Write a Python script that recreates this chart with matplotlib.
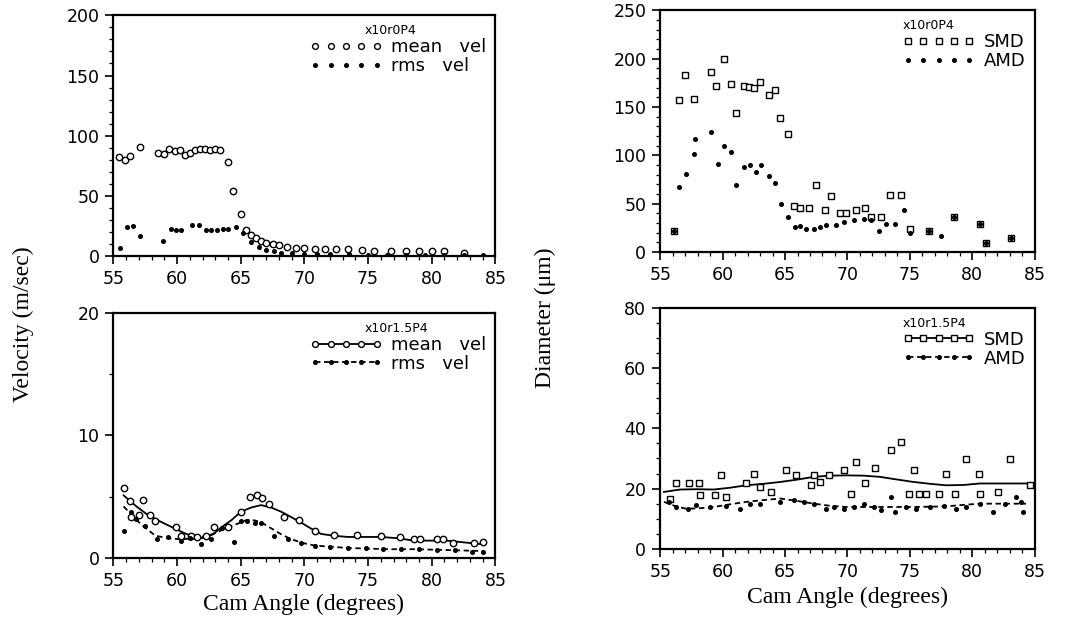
import matplotlib.pyplot as plt
from matplotlib.lines import Line2D
from matplotlib.ticker import MultipleLocator

# ---- top left: velocity, x10r0P4 ----
tl_mean_x = [55.4, 55.9, 56.3, 57.1, 58.5, 59.0, 59.4, 59.8, 60.2, 60.6, 61.0, 61.4, 61.8, 62.2,
             62.6, 63.0, 63.4, 64.0, 64.4, 65.0, 65.4, 65.8, 66.2, 66.6, 67.0, 67.5, 68.0, 68.6,
             69.3, 70.0, 70.8, 71.6, 72.5, 73.4, 74.5, 75.5, 76.8, 78.0, 79.0, 80.0, 81.0, 82.5]
tl_mean_y = [82, 80, 83, 91, 86, 85, 89, 87, 88, 84, 86, 88, 89, 89,
             88, 89, 88, 78, 54, 35, 22, 18, 15, 13, 11, 10, 9, 8,
             7, 7, 6, 6, 6, 6, 5, 4, 4, 4, 4, 4, 4, 3]
tl_rms_x = [55.5, 56.1, 56.5, 57.1, 58.9, 59.5, 59.9, 60.3, 61.2, 61.7, 62.3, 62.7, 63.1, 63.6,
            64.0, 64.6, 65.2, 65.8, 66.4, 67.0, 67.6, 68.2, 69.0, 70.0, 71.0, 72.0, 73.5, 75.0,
            76.5, 78.0, 79.5, 81.0, 82.5, 84.0]
tl_rms_y = [7, 24, 25, 17, 13, 23, 22, 22, 26, 26, 22, 22, 22, 23,
            23, 24, 19, 12, 8, 5, 4, 3, 3, 2, 2, 2, 2, 1.5,
            1.5, 1.5, 1.5, 1, 1, 1]

# ---- bottom left: velocity, x10r1.5P4 ----
bl_mean_x = [55.8, 56.3, 57.3, 56.4, 57.0, 57.9, 58.3, 59.9, 60.3, 61.1, 61.6, 62.3, 62.9, 64.0,
             65.0, 65.7, 66.3, 66.7, 67.2, 68.4, 69.6, 70.8, 72.3, 74.1, 76.0, 77.5, 78.6,
             79.1, 80.4, 80.9, 81.7, 83.3, 84.0]
bl_mean_y = [5.7, 4.6, 4.7, 3.3, 3.5, 3.5, 3.0, 2.5, 1.8, 1.8, 1.7, 1.8, 2.5, 2.5,
             3.75, 5.0, 5.1, 4.9, 4.4, 3.3, 3.1, 2.2, 1.9, 1.9, 1.8, 1.7, 1.5,
             1.5, 1.5, 1.5, 1.2, 1.2, 1.3]
bl_mean_fit_x = [55.8, 56.8, 57.7, 58.8, 59.8, 60.6, 61.4, 62.0, 62.8, 63.5, 64.3, 65.0, 65.8,
                 66.6, 67.4, 68.2, 69.0, 69.7, 70.5, 71.3, 72.3, 73.4, 74.7, 76.0, 77.3, 78.6,
                 79.9, 81.2, 82.6, 84.0]
bl_mean_fit_y = [5.1, 4.2, 3.5, 2.9, 2.4, 2.0, 1.7, 1.6, 1.9, 2.5, 3.1, 3.75, 4.1,
                 4.3, 4.1, 3.75, 3.3, 2.9, 2.4, 1.95, 1.8, 1.7, 1.7, 1.7, 1.6, 1.4,
                 1.4, 1.4, 1.25, 1.1]
bl_rms_x = [55.8, 56.4, 56.8, 57.5, 58.4, 59.3, 60.3, 61.0, 61.9, 62.7, 63.5, 64.5, 65.0, 65.5,
            66.1, 66.6, 67.6, 68.7, 69.7, 70.8, 72.0, 73.4, 74.8, 76.2, 77.6, 79.0, 80.4,
            81.8, 83.2, 84.0]
bl_rms_y = [2.2, 3.75, 3.2, 2.6, 1.5, 1.7, 1.4, 1.6, 1.1, 1.5, 2.4, 1.25, 3.0, 3.0,
            2.8, 2.8, 1.8, 1.5, 1.2, 1.0, 0.9, 0.8, 0.8, 0.7, 0.7, 0.7, 0.6,
            0.6, 0.5, 0.5]
bl_rms_fit_x = [55.8, 56.2, 57.2, 58.3, 59.3, 60.3, 61.4, 62.4, 63.2, 64.0, 64.8, 65.5, 66.1,
                66.6, 67.4, 68.2, 69.0, 69.9, 70.8, 72.1, 73.4, 75.0, 76.7, 78.6, 80.5, 82.3, 84.0]
bl_rms_fit_y = [4.2, 3.75, 2.7, 1.8, 1.6, 1.5, 1.6, 1.8, 2.1, 2.5, 2.8, 3.1, 3.05,
                2.9, 2.4, 1.9, 1.5, 1.2, 1.0, 0.9, 0.8, 0.75, 0.7, 0.7, 0.65, 0.6, 0.55]

# ---- top right: diameter, x10r0P4 ----
tr_smd_x = [56.1, 56.5, 57.0, 57.7, 59.1, 59.5, 60.1, 60.7, 61.1, 61.7, 62.1, 62.5, 63.0, 63.7,
            64.2, 64.6, 65.2, 65.7, 66.2, 66.9, 67.5, 68.2, 68.7, 69.4, 69.9, 70.7, 71.4, 71.9,
            72.7, 73.4, 74.3, 75.0, 76.5, 78.5, 80.6, 81.1, 83.1]
tr_smd_y = [22, 157, 183, 158, 186, 172, 200, 174, 144, 172, 171, 169, 176, 162,
            167, 138, 122, 47, 45, 45, 69, 43, 58, 40, 40, 43, 45, 36,
            36, 59, 59, 24, 22, 36, 29, 9, 14]
tr_amd_x = [56.1, 56.5, 57.1, 57.7, 57.8, 59.1, 59.6, 60.1, 60.7, 61.1, 61.7, 62.2, 62.7, 63.1,
            63.7, 64.2, 64.7, 65.2, 65.8, 66.2, 66.7, 67.3, 67.8, 68.3, 69.1, 69.7, 70.5, 71.3,
            71.9, 72.5, 73.1, 73.8, 74.5, 75.0, 76.5, 77.5, 78.5, 80.6, 81.1, 83.1]
tr_amd_y = [22, 67, 81, 101, 117, 124, 91, 109, 103, 69, 88, 90, 83, 90,
            78, 71, 49, 36, 26, 27, 24, 24, 26, 28, 28, 31, 33, 34,
            33, 22, 29, 29, 43, 19, 22, 16, 36, 29, 9, 14]

# ---- bottom right: diameter, x10r1.5P4 ----
br_smd_x = [55.8, 56.3, 57.3, 58.1, 58.2, 59.4, 59.9, 60.3, 61.9, 62.5, 63.0, 63.9, 65.1, 65.9,
            67.1, 67.3, 67.8, 68.5, 69.7, 70.3, 70.7, 71.4, 72.2, 73.5, 74.3, 74.9, 75.3, 75.7,
            76.3, 77.3, 77.9, 78.6, 79.5, 80.5, 80.6, 82.1, 83.0, 84.6]
br_smd_y = [16.7, 21.9, 21.9, 21.9, 17.8, 17.8, 24.4, 17.2, 21.7, 25.0, 20.5, 18.9, 26.1, 24.4,
            21.1, 24.4, 22.2, 24.4, 26.1, 18.3, 28.9, 21.7, 26.7, 32.8, 35.6, 18.3, 26.1, 18.3,
            18.3, 18.3, 25.0, 18.3, 29.7, 25.0, 18.3, 18.9, 29.7, 21.1]
br_smd_fit_x = [55.3, 56.6, 57.9, 59.3, 60.6, 61.9, 63.3, 64.6, 66.0, 67.3, 68.6, 69.9, 71.3,
                72.6, 74.0, 75.3, 76.6, 77.9, 79.3, 80.6, 82.6, 84.6]
br_smd_fit_y = [18.9, 19.7, 19.8, 19.7, 20.3, 21.1, 21.6, 22.2, 23.0, 23.9, 24.3, 24.4, 24.3,
                23.9, 23.0, 22.2, 21.6, 21.1, 21.2, 21.7, 21.7, 21.7]
br_amd_x = [55.7, 56.3, 57.2, 57.9, 59.0, 60.3, 61.4, 62.2, 63.0, 64.6, 65.7, 66.5, 67.3, 68.3,
            68.9, 69.7, 70.5, 71.3, 72.1, 72.7, 73.5, 73.8, 74.7, 75.5, 76.6, 77.7, 78.7,
            79.5, 80.6, 81.7, 82.6, 83.5, 83.9, 84.1]
br_amd_y = [15.6, 13.9, 13.3, 14.4, 14.0, 14.1, 13.3, 15.0, 15.0, 15.6, 16.3, 15.5, 15.0, 13.3,
            13.9, 13.3, 13.9, 15.0, 13.9, 12.8, 17.2, 12.2, 13.9, 13.3, 13.9, 14.1, 13.3,
            13.9, 15.0, 12.2, 15.0, 17.2, 15.6, 12.2]
br_amd_fit_x = [55.3, 56.2, 57.1, 58.2, 59.3, 60.6, 61.9, 63.3, 64.6, 66.0, 67.3, 68.6, 69.9,
                71.3, 72.6, 74.0, 75.3, 76.6, 77.9, 79.3, 80.6, 82.5, 84.3]
br_amd_fit_y = [15.6, 14.2, 13.3, 13.5, 13.9, 14.8, 15.6, 16.2, 16.7, 15.9, 15.0, 14.3, 13.9,
                13.9, 13.9, 13.9, 13.9, 14.0, 14.1, 14.6, 15.0, 15.0, 15.0]

plt.rcParams['font.family'] = ['DejaVu Sans']
plt.rcParams['axes.linewidth'] = 1.6

fig = plt.figure(figsize=(10.7, 6.36), dpi=100)
ax_tl = fig.add_axes([0.106, 0.597, 0.357, 0.379])
ax_bl = fig.add_axes([0.106, 0.123, 0.357, 0.385])
ax_tr = fig.add_axes([0.617, 0.604, 0.350, 0.380])
ax_br = fig.add_axes([0.617, 0.137, 0.350, 0.379])

open_c = dict(marker='o', ms=4.6, mfc='white', mec='black', mew=1.0, ls='none')
open_s = dict(marker='s', ms=4.2, mfc='white', mec='black', mew=1.0, ls='none')
dot = dict(marker='o', ms=2.6, color='black', ls='none')

# top left
ax_tl.plot(tl_mean_x, tl_mean_y, **open_c)
ax_tl.plot(tl_rms_x, tl_rms_y, **dot)
ax_tl.set_ylim(0, 200)
ax_tl.yaxis.set_major_locator(MultipleLocator(50))
ax_tl.yaxis.set_minor_locator(MultipleLocator(10))

# bottom left
ax_bl.plot(bl_mean_fit_x, bl_mean_fit_y, color='black', lw=1.3)
ax_bl.plot(bl_rms_fit_x, bl_rms_fit_y, color='black', lw=1.3, ls=(0, (3, 2)))
ax_bl.plot(bl_mean_x, bl_mean_y, **open_c)
ax_bl.plot(bl_rms_x, bl_rms_y, **dot)
ax_bl.set_ylim(0, 20)
ax_bl.yaxis.set_major_locator(MultipleLocator(10))
ax_bl.yaxis.set_minor_locator(MultipleLocator(5))

# top right
ax_tr.plot(tr_smd_x, tr_smd_y, **open_s)
ax_tr.plot(tr_amd_x, tr_amd_y, **dot)
ax_tr.set_ylim(0, 250)
ax_tr.yaxis.set_major_locator(MultipleLocator(50))
ax_tr.yaxis.set_minor_locator(MultipleLocator(10))

# bottom right
ax_br.plot(br_smd_fit_x, br_smd_fit_y, color='black', lw=1.3)
ax_br.plot(br_amd_fit_x, br_amd_fit_y, color='black', lw=1.3, ls=(0, (3, 2)))
ax_br.plot(br_smd_x, br_smd_y, **open_s)
ax_br.plot(br_amd_x, br_amd_y, **dot)
ax_br.set_ylim(0, 80)
ax_br.yaxis.set_major_locator(MultipleLocator(20))
ax_br.yaxis.set_minor_locator(MultipleLocator(5))

for ax in [ax_tl, ax_bl, ax_tr, ax_br]:
    ax.set_xlim(55, 85)
    ax.xaxis.set_major_locator(MultipleLocator(5))
    ax.xaxis.set_minor_locator(MultipleLocator(1))
    ax.tick_params(which='major', length=6, width=1.2, labelsize=12.5, pad=4)
    ax.tick_params(which='minor', length=3, width=0.9)

# legends (header + two entries)
def add_legend(ax, header, name1, name2, m1, fitted, shift):
    ls1 = '-' if fitted else 'none'
    ls2 = (0, (3, 2)) if fitted else 'none'
    h1 = Line2D([], [], marker=m1, ms=4.2, mfc='white', mec='black', mew=1.0,
                color='black', ls=ls1, lw=1.3)
    h2 = Line2D([], [], marker='o', ms=2.6, color='black', ls=ls2, lw=1.3)
    leg = ax.legend([h1, h2], [name1, name2], title=header, loc='upper right',
                    numpoints=5, frameon=False, fontsize=13, handlelength=4.0,
                    handletextpad=0.5, labelspacing=0.05, borderaxespad=0.1,
                    title_fontsize=9)
    leg._legend_box.align = 'left'
    leg.get_title().set_position((shift, 0))

add_legend(ax_tl, 'x10r0P4', 'mean   vel', 'rms   vel', 'o', False, 55)
add_legend(ax_bl, 'x10r1.5P4', 'mean   vel', 'rms   vel', 'o', True, 55)
add_legend(ax_tr, 'x10r0P4', 'SMD', 'AMD', 's', False, 0)
add_legend(ax_br, 'x10r1.5P4', 'SMD', 'AMD', 's', True, 0)

# axis titles
serif = ['Liberation Serif', 'DejaVu Serif']
fig.text(0.022, 0.49, 'Velocity (m/sec)', rotation=90, ha='center', va='center',
         fontsize=17, family=serif)
fig.text(0.510, 0.50, 'Diameter (\u03bcm)', rotation=90, ha='center', va='center',
         fontsize=17, family=serif)
fig.text(0.284, 0.050, 'Cam Angle (degrees)', ha='center', va='center',
         fontsize=17, family=serif)
fig.text(0.792, 0.060, 'Cam Angle (degrees)', ha='center', va='center',
         fontsize=17, family=serif)

fig.savefig('out.png', dpi=100)
